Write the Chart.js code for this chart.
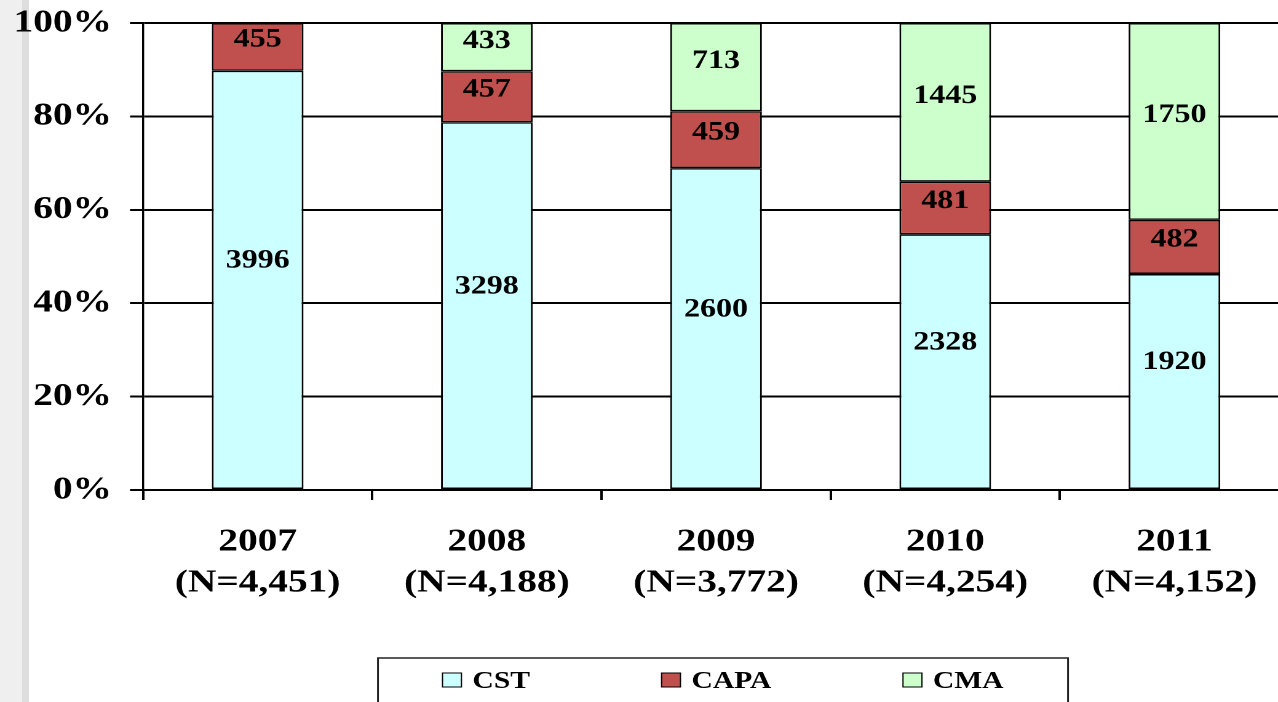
<!DOCTYPE html>
<html>
<head>
<meta charset="utf-8">
<script src="https://cdn.jsdelivr.net/npm/chart.js@4/dist/chart.umd.min.js"></script>
<style>
  html, body { margin: 0; padding: 0; background: #ffffff; overflow: hidden; width: 1278px; height: 702px; }
  #strip1 { position: absolute; left: 0; top: 0; width: 22px; height: 702px; background: #efefef; }
  #strip2 { position: absolute; left: 22px; top: 0; width: 7px; height: 702px; background: #dddddd; }
  #wrap { position: absolute; left: 0; top: 0; width: 1048px; height: 702px; transform: scaleX(1.23); transform-origin: 0 0; }
</style>
</head>
<body>
<div id="strip1"></div>
<div id="strip2"></div>
<div id="wrap"><canvas id="c"></canvas></div>
<script>
// ---- data ----
const years = ['2007', '2008', '2009', '2010', '2011'];
const cst  = [3996, 3298, 2600, 2328, 1920];
const capa = [455, 457, 459, 481, 482];
const cma  = [0, 433, 713, 1445, 1750];
const yTicks = [0, 20, 40, 60, 80, 100];

const totals = years.map((_, i) => cst[i] + capa[i] + cma[i]);
const pct = arr => arr.map((v, i) => v / totals[i] * 100);
const catLabels = years.map((y, i) => [y, '(N=' + totals[i].toLocaleString('en-US') + ')']);

const SERIF = "'Liberation Serif', 'Times New Roman', Times, serif";

const segmentLabels = {
  id: 'segmentLabels',
  afterDatasetsDraw(chart) {
    const ctx = chart.ctx;
    ctx.save();
    ctx.font = 'bold 26px ' + SERIF;
    ctx.fillStyle = '#000';
    ctx.textAlign = 'center';
    ctx.textBaseline = 'middle';
    chart.data.datasets.forEach((ds, i) => {
      const meta = chart.getDatasetMeta(i);
      meta.data.forEach((bar, j) => {
        const n = ds.counts[j];
        if (!n) return;
        const p = bar.getProps(['x', 'y', 'base'], true);
        ctx.fillText(String(n), p.x, (p.y + p.base) / 2 + (ds.labelShift || 0));
      });
    });
    ctx.restore();
  }
};

const boxedLegend = {
  id: 'boxedLegend',
  afterDraw(chart, args, o) {
    const ctx = chart.ctx;
    ctx.save();
    ctx.strokeStyle = '#222';
    ctx.lineWidth = 1.5;
    ctx.strokeRect(o.left, o.top, o.right - o.left, o.height);
    ctx.font = 'bold 24px ' + SERIF;
    const items = chart.data.datasets.map(ds => ({
      text: ds.label, fill: ds.backgroundColor, w: ctx.measureText(ds.label).width
    }));
    const total = items.reduce((s, it) => s + o.box + o.gap + it.w, 0) + o.spacing * (items.length - 1);
    let x = (o.left + o.right) / 2 - total / 2;
    items.forEach(it => {
      ctx.fillStyle = it.fill;
      ctx.fillRect(x, o.boxTop, o.box, o.boxH);
      ctx.strokeStyle = '#000';
      ctx.lineWidth = 1;
      ctx.strokeRect(x, o.boxTop, o.box, o.boxH);
      ctx.fillStyle = '#000';
      ctx.textAlign = 'left';
      ctx.textBaseline = 'alphabetic';
      ctx.fillText(it.text, x + o.box + o.gap, o.baseline);
      x += o.box + o.gap + it.w + o.spacing;
    });
    ctx.restore();
  }
};

function draw() {
  new Chart(document.getElementById('c'), {
    type: 'bar',
    data: {
      labels: catLabels,
      datasets: [
        { label: 'CST',  data: pct(cst),  counts: cst,  backgroundColor: '#CCFFFF', labelShift: -19 },
        { label: 'CAPA', data: pct(capa), counts: capa, backgroundColor: '#C0504D', labelShift: -7 },
        { label: 'CMA',  data: pct(cma),  counts: cma,  backgroundColor: '#CCFFCC', labelShift: -6 }
      ].map(d => Object.assign(d, {
        borderColor: '#000', borderWidth: 1.5, borderSkipped: false,
        barPercentage: 0.4, categoryPercentage: 1.0
      }))
    },
    options: {
      responsive: true,
      maintainAspectRatio: false,
      devicePixelRatio: 2,
      animation: false,
      layout: { padding: { left: 0, right: 0, top: 23, bottom: 0 } },
      plugins: {
        legend: { display: false },
        tooltip: { enabled: false },
        boxedLegend: {
          left: 307.3, right: 868.3, top: 658, height: 70,
          box: 15.4, boxH: 14, boxTop: 673, gap: 9, spacing: 107, baseline: 688
        }
      },
      scales: {
        x: {
          stacked: true,
          afterFit: s => { s.height = 212; },
          grid: { display: true, drawOnChartArea: false, drawTicks: true, tickLength: 10, color: '#000', lineWidth: 2 },
          border: { display: true, color: '#000', width: 2 },
          ticks: {
            color: '#000', padding: 22, maxRotation: 0, autoSkip: false,
            font: { family: SERIF, size: 32, weight: 'bold', lineHeight: 1.28 }
          }
        },
        y: {
          stacked: true,
          min: 0, max: 100,
          afterFit: s => { s.width = 116.3; },
          afterBuildTicks: s => { s.ticks = yTicks.map(v => ({ value: v })); },
          grid: { color: '#000', lineWidth: 2, drawTicks: true, tickLength: 10.6 },
          border: { display: true, color: '#000', width: 1.7 },
          ticks: {
            color: '#000', padding: 14.7,
            font: { family: SERIF, size: 32, weight: 'bold', lineHeight: 0.5 },
            callback: v => v + '%'
          }
        }
      }
    },
    plugins: [segmentLabels, boxedLegend]
  });
}

Promise.all([
  document.fonts.load("bold 32px 'Liberation Serif'"),
  document.fonts.load("bold 24px 'Liberation Serif'")
]).then(draw, draw);
</script>
</body>
</html>
